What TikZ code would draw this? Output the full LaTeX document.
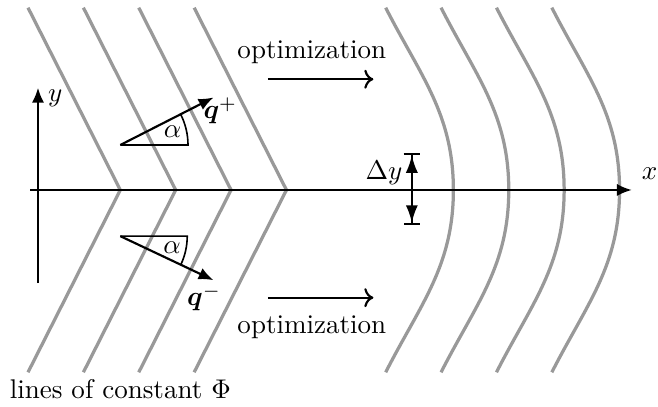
\documentclass[tikz,border=0pt]{standalone}
\usepackage{amsmath, amssymb}
\usepackage{bm}
\usetikzlibrary{arrows.meta, positioning}

\begin{document}
\begin{tikzpicture}[
    isoline/.style={very thick, black!40},
    axis/.style={thick, -{Latex[length=5.5pt, width=4.5pt]}},
    vec/.style={thick, -{Latex[length=5.5pt, width=4.5pt]}},
    flow/.style={thick, ->}]
    \useasboundingbox (-0.494,-2.82) rectangle (8.06,2.47);

    % 初始等值线 (折线)
    \foreach \x in {1.07, 1.79, 2.51, 3.23} {
        \draw[isoline] (\x-1.2, 2.37) -- (\x, 0) -- (\x-1.2, -2.37);
    }

    % 优化后的等值线 (曲线)
    \foreach \x in {5.40, 6.12, 6.84, 7.56} {
        \draw[isoline] (\x-0.88, 2.37) to[out=-63, in=90] (\x, 0) to[out=-90, in=63] (\x-0.88, -2.37);
    }

    % 坐标轴
    \draw[axis] (-0.1, 0) -- (7.72, 0) node[above right] (xlab) {$x$};
    \draw[axis] (0, -1.21) -- (0, 1.33) node[right, yshift=-4pt] (ylab) {$y$};

    % 向量 q+
    \coordinate (qp0) at (1.07, 0.585);
    \draw[vec] (qp0) -- ++(27:1.36) coordinate (qp1);
    \draw[semithick] (qp0) -- ++(0.88, 0) arc[start angle=0, end angle=27, radius=0.88];
    \path (qp0) ++(14:0.70) node (alphap) {$\alpha$};
    \node (qplab) at (2.37, 1.03) {$\bm{q}^{+}$};

    % 向量 q-
    \coordinate (qm0) at (1.07, -0.60);
    \draw[vec] (qm0) -- ++(-25.3:1.34) coordinate (qm1);
    \draw[semithick] (qm0) -- ++(0.87, 0) arc[start angle=0, end angle=-25.3, radius=0.87];
    \path (qm0) ++(-13:0.69) node (alpham) {$\alpha$};
    \node (qmlab) at (2.16, -1.40) {$\bm{q}^{-}$};

    % 间距 Delta y
    \coordinate (dytop) at (4.86, 0.48);
    \coordinate (dybot) at (4.86, -0.455);
    \draw[thick, {Bar[width=6pt]Latex[length=6.5pt, width=4.5pt]}-{Latex[length=6.5pt, width=4.5pt]Bar[width=6pt]}] (dytop) -- (dybot);
    \node[left] (dylab) at (4.86, 0.22) {$\Delta y$};

    % 优化方向
    \coordinate (opta0) at (2.99, 1.44);
    \coordinate (opta1) at (4.36, 1.44);
    \draw[flow] (opta0) -- (opta1);
    \node (opta) at (3.56, 1.79) {optimization};
    \coordinate (optb0) at (2.99, -1.40);
    \coordinate (optb1) at (4.36, -1.40);
    \draw[flow] (optb0) -- (optb1);
    \node (optb) at (3.56, -1.79) {optimization};

    % 标注
    \node (philab) at (1.07, -2.59) {lines of constant $\Phi$};
\end{tikzpicture}
\end{document}
